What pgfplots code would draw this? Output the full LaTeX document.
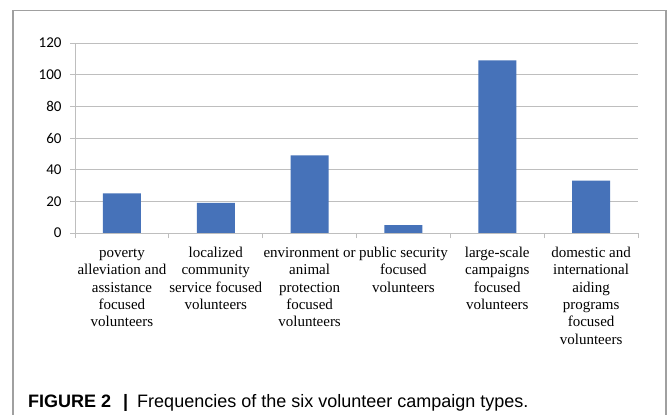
\documentclass[border=0pt]{standalone}
\usepackage{pgfplots}
\pgfplotsset{compat=1.18}
\usepackage{fontspec}
\setmainfont{Liberation Serif}
\newfontfamily\calibri{Carlito}
\newfontfamily\helv{Liberation Sans}
\definecolor{barblue}{RGB}{70,114,185}
\definecolor{gridgray}{RGB}{190,190,190}
\definecolor{framegray}{RGB}{160,160,160}

\begin{document}
\begin{tikzpicture}
\useasboundingbox (0,0) rectangle (667bp,415bp);
\fill[white] (0,0) rectangle (667bp,415bp);
% outer frame, open at the bottom
\draw[framegray, line width=1.2bp] (13bp,-1bp) -- (13bp,404.5bp) -- (666bp,404.5bp) -- (666bp,-1bp);
\begin{axis}[
  at={(75bp,182bp)}, anchor=south west,
  scale only axis, width=563bp, height=190bp,
  xmin=-0.5, xmax=5.5, ymin=0, ymax=120,
  ytick={0,20,...,120},
  xtick={-0.5,0.5,...,5.5},
  x tick label as interval,
  xticklabels={
    {\strut poverty\\alleviation and\\assistance\\focused\\volunteers},
    {\strut localized\\community\\service focused\\volunteers},
    {\strut environment or\\animal\\protection\\focused\\volunteers},
    {\strut public security\\focused\\volunteers},
    {\strut large-scale\\campaigns\\focused\\volunteers},
    {\strut domestic and\\international\\aiding\\programs\\focused\\volunteers}},
  /pgf/number format/assume math mode=true,
  axis x line*=bottom, axis y line*=left,
  axis line style={gridgray, line width=0.8bp},
  ymajorgrids, grid style={gridgray, line width=0.8bp},
  tick style={gridgray, line width=0.8bp},
  tick align=outside, major tick length=5bp,
  yticklabel style={font=\calibri\fontsize{15bp}{17bp}\selectfont, xshift=-5bp},
  xticklabel style={font=\fontsize{15bp}{17.3bp}\selectfont, align=center, anchor=north, yshift=-4bp},
  ybar, bar width=38bp,
]
\addplot[fill=barblue, draw=none] coordinates {(0,25) (1,19) (2,49) (3,5) (4,109) (5,33)};
\end{axis}
\node[anchor=base west, inner sep=0pt, font=\helv\fontsize{18bp}{20bp}\selectfont] at (28bp,8bp)
  {\textbf{FIGURE 2\hspace{12bp}|}\hspace{9bp}Frequencies of the six volunteer campaign types.};
\end{tikzpicture}
\end{document}
